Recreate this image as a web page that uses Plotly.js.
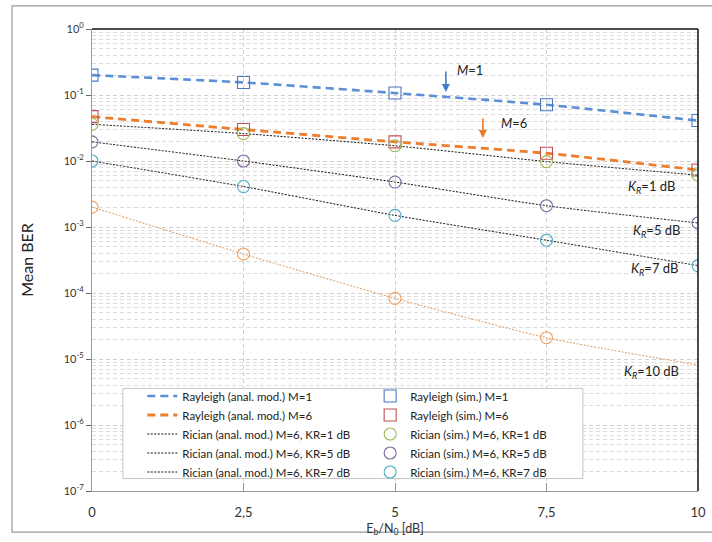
<!DOCTYPE html>
<html>
<head>
<meta charset="utf-8">
<script src="https://cdn.plot.ly/plotly-3.0.1.min.js"></script>
<style>html,body{margin:0;padding:0;background:#fff;}#chart{width:712px;height:542px;}</style>
</head>
<body>
<div id="chart"></div>
<script>
// ---- data ----
const ebn0 = [0, 2.5, 5, 7.5, 10];
const ebn0K10sim = [0, 2.5, 5, 7.5];
const rayM1 = [0.20, 0.155, 0.107, 0.071, 0.041];
const rayM6 = [0.047, 0.030, 0.0195, 0.0131, 0.0073];
const ricK1 = [0.036, 0.026, 0.017, 0.0098, 0.0061];
const ricK5 = [0.0195, 0.010, 0.0048, 0.0021, 0.00115];
const ricK7 = [0.010, 0.0041, 0.0015, 0.00063, 0.00026];
const ricK10 = [0.002, 0.00039, 8.3e-5, 2.1e-5, 8.1e-6];
const ricK10sim = [0.002, 0.00039, 8.3e-5, 2.1e-5];
const xTickVals = [0, 2.5, 5, 7.5, 10];
const xTickText = ['0', '2,5', '5', '7,5', '10'];
const yTickVals = [1, 1e-1, 1e-2, 1e-3, 1e-4, 1e-5, 1e-6, 1e-7];
const yTickText = ['10<sup>0</sup>','10<sup>-1</sup>','10<sup>-2</sup>','10<sup>-3</sup>','10<sup>-4</sup>','10<sup>-5</sup>','10<sup>-6</sup>','10<sup>-7</sup>'];
const anaNames = ['Rayleigh (anal. mod.) M=1','Rayleigh (anal. mod.) M=6','Rician (anal. mod.) M=6, KR=1 dB','Rician (anal. mod.) M=6, KR=5 dB','Rician (anal. mod.) M=6, KR=7 dB'];
const simNames = ['Rayleigh (sim.) M=1','Rayleigh (sim.) M=6','Rician (sim.) M=6, KR=1 dB','Rician (sim.) M=6, KR=5 dB','Rician (sim.) M=6, KR=7 dB'];

const blue = '#5b8fd6', orange = '#ee7d2f';
const FONT = 'Lato, "Open Sans", sans-serif';

function ana(y, name, color, dash, width, show) {
  return {x: ebn0, y: y, name: name, type: 'scatter', mode: 'lines',
    line: {color: color, dash: dash, width: width, shape: 'spline', smoothing: 0.6},
    showlegend: show, legend: 'legend'};
}
function sim(x, y, name, color, symbol, show) {
  return {x: x, y: y, name: name, type: 'scatter', mode: 'markers',
    marker: {symbol: symbol, size: 12, color: color, line: {width: 1.1}},
    showlegend: show, legend: 'legend2'};
}

const traces = [
  ana(rayM1, anaNames[0], blue, '8px,5px', 2.6, true),
  ana(rayM6, anaNames[1], orange, '8px,5px', 2.8, true),
  ana(ricK1, anaNames[2], '#111', '2px,1.5px', 1, true),
  ana(ricK5, anaNames[3], '#111', '2px,1.5px', 1, true),
  ana(ricK7, anaNames[4], '#111', '2px,1.5px', 1, true),
  ana(ricK10, 'Rician (anal. mod.) M=6, KR=10 dB', '#e2a46e', '2px,1.5px', 1.1, false),
  sim(ebn0, rayM1, simNames[0], '#4a78c0', 'square-open', true),
  sim(ebn0, rayM6, simNames[1], '#c0504d', 'square-open', true),
  sim(ebn0, ricK1, simNames[2], '#9bbb59', 'circle-open', true),
  sim(ebn0, ricK5, simNames[3], '#8064a2', 'circle-open', true),
  sim(ebn0, ricK7, simNames[4], '#4bacc6', 'circle-open', true),
  sim(ebn0K10sim, ricK10sim, 'Rician (sim.) M=6, KR=10 dB', '#f0a060', 'circle-open', false)
];

const ann = (x, y, text, extra) => Object.assign({x: x, y: y, xref: 'x', yref: 'y', text: text, showarrow: false,
  font: {family: FONT, size: 13, color: '#222'}}, extra || {});

const layout = {
  width: 712, height: 542,
  margin: {l: 92, r: 14, t: 29, b: 51},
  paper_bgcolor: '#fff', plot_bgcolor: '#fff',
  font: {family: FONT, color: '#333'},
  xaxis: {
    range: [0, 10], tickvals: xTickVals, ticktext: xTickText,
    ticks: 'inside', ticklen: 8, tickcolor: '#999', tickwidth: 1,
    showline: true, linecolor: '#999', linewidth: 1,
    showgrid: true, gridcolor: '#d0d0d0', griddash: '4px,3px', gridwidth: 1,
    zeroline: false, tickfont: {family: FONT, size: 13, color: '#333'},
    ticklabelstandoff: 9,
    title: {text: 'E<sub>b</sub>/N<sub>0</sub> [dB]', font: {family: FONT, size: 12.5, color: '#333'}, standoff: 5}
  },
  yaxis: {
    type: 'log', range: [-7, 0], tickvals: yTickVals, ticktext: yTickText,
    ticks: 'outside', ticklen: 5, tickcolor: '#666',
    showline: true, linecolor: '#999', linewidth: 1,
    showgrid: true, gridcolor: '#d0d0d0', griddash: '4px,3px', gridwidth: 1,
    minor: {dtick: 'D1', showgrid: true, gridcolor: '#dcdcdc', griddash: '4px,3px', gridwidth: 1, ticks: ''},
    zeroline: false, tickfont: {family: FONT, size: 11, color: '#333'},
    title: {text: 'Mean BER', font: {family: FONT, size: 16, color: '#222'}, standoff: 26}
  },
  legend: {x: 0.083, y: 0.237, xanchor: 'left', yanchor: 'top', bgcolor: 'rgba(0,0,0,0)',
    borderwidth: 0, font: {family: FONT, size: 11.5, color: '#222'}, tracegroupgap: 0},
  legend2: {x: 0.459, y: 0.237, xanchor: 'left', yanchor: 'top', bgcolor: 'rgba(0,0,0,0)',
    borderwidth: 0, font: {family: FONT, size: 11.5, color: '#222'}, tracegroupgap: 0},
  shapes: [
    {type: 'rect', xref: 'paper', yref: 'paper', x0: 0.051, x1: 0.81, y0: 0.027, y1: 0.222,
      fillcolor: '#fff', line: {color: '#c8c8c8', width: 1}, layer: 'above'},
    {type: 'line', xref: 'paper', yref: 'paper', x0: 0, x1: 1, y0: 1, y1: 1, line: {color: '#111', width: 1.5}, layer: 'above'},
    {type: 'line', xref: 'paper', yref: 'paper', x0: 1, x1: 1, y0: 0, y1: 1, line: {color: '#111', width: 1.5}, layer: 'above'},
    {type: 'rect', xref: 'paper', yref: 'paper', x0: -0.132, x1: 1.05, y0: -0.089, y1: 1.05,
      fillcolor: 'rgba(0,0,0,0)', line: {color: '#999', width: 1.2}, layer: 'below'}
  ],
  annotations: [
    {x: 5.84, y: -0.955, xref: 'x', yref: 'y', ax: 0, ay: -22, showarrow: true, arrowhead: 2, arrowsize: 1, arrowwidth: 1.6, arrowcolor: '#3f7fc4', text: ''},
    {x: 6.45, y: -1.65, xref: 'x', yref: 'y', ax: 0, ay: -21, showarrow: true, arrowhead: 2, arrowsize: 1, arrowwidth: 1.6, arrowcolor: '#e8782a', text: ''},
    ann(6.23, -0.62, '<i>M</i>=1'),
    ann(6.96, -1.42, '<i>M</i>=6'),
    ann(9.24, -2.39, '<i>K</i><sub><i>R</i></sub>=1 dB'),
    ann(9.31, -3.06, '<i>K</i><sub><i>R</i></sub>=5 dB'),
    ann(9.29, -3.64, '<i>K</i><sub><i>R</i></sub>=7 dB'),
    ann(9.24, -5.2, '<i>K</i><sub><i>R</i></sub>=10 dB')
  ]
};

Plotly.newPlot('chart', traces, layout, {displayModeBar: false, staticPlot: true});
</script>
</body>
</html>
